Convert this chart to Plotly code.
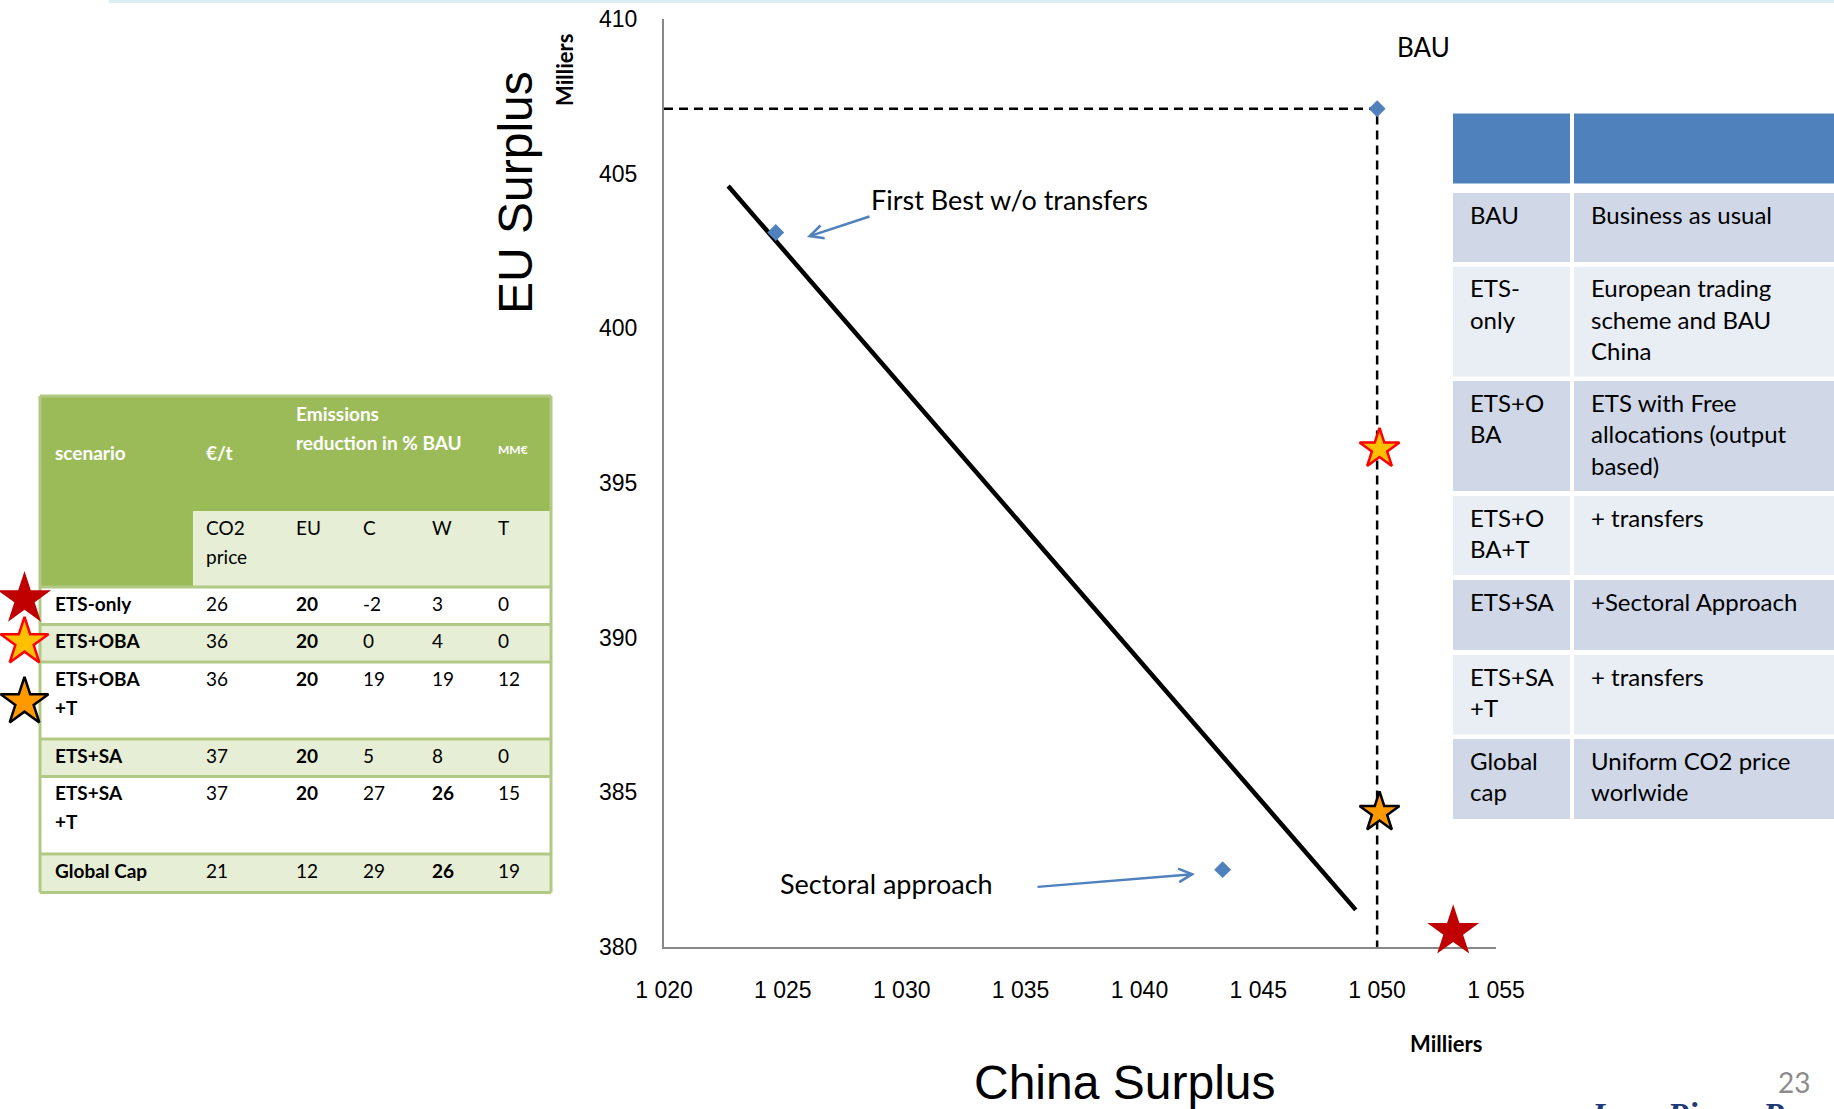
import plotly.graph_objects as go

# ---------------- data ----------------
china_tick_vals = [1020, 1025, 1030, 1035, 1040, 1045, 1050, 1055]
china_tick_text = ["1 020", "1 025", "1 030", "1 035", "1 040", "1 045", "1 050", "1 055"]
eu_tick_vals = [380, 385, 390, 395, 400, 405, 410]
eu_tick_text = ["380", "385", "390", "395", "400", "405", "410"]

bau_china = [1050.0]
bau_eu = [407.1]
first_best_china = [1024.7]
first_best_eu = [403.1]
sectoral_china = [1043.5]
sectoral_eu = [382.5]
frontier_china = [1022.7, 1049.1]
frontier_eu = [404.6, 381.2]
ets_only_china = [1053.2]
ets_only_eu = [380.5]
ets_oba_china = [1050.1]
ets_oba_eu = [396.1]
ets_oba_t_china = [1050.1]
ets_oba_t_eu = [384.35]

scenario_names = ["ETS-only", "ETS+OBA", "ETS+OBA<br>+T", "ETS+SA", "ETS+SA<br>+T", "Global Cap"]
co2_price = [26, 36, 36, 37, 37, 21]
reduction_eu = [20, 20, 20, 20, 20, 12]
reduction_c = [-2, 0, 19, 5, 27, 29]
reduction_w = [3, 4, 19, 8, 26, 26]
transfers_mme = [0, 0, 12, 0, 15, 19]
eu_bold = [True, True, True, True, True, False]
w_bold = [False, False, False, False, True, True]

left_header = ["scenario", "€/t", "Emissions<br>reduction in % BAU", "MM€"]
left_subheader = ["CO2<br>price", "EU", "C", "W", "T"]

glossary_abbr = ["BAU", "ETS-<br>only", "ETS+O<br>BA", "ETS+O<br>BA+T", "ETS+SA", "ETS+SA<br>+T", "Global<br>cap"]
glossary_desc = ["Business as usual",
                 "European trading<br>scheme and BAU<br>China",
                 "ETS with Free<br>allocations (output<br>based)",
                 "+ transfers",
                 "+Sectoral Approach",
                 "+ transfers",
                 "Uniform CO2 price<br>worlwide"]

# ---------------- layout constants (pixels) ----------------
W, H = 1834, 1109
PX0, PX1, PY_TOP, PY_BOT = 664, 1496, 19, 947
SANS = "Liberation Sans, Arial, sans-serif"
BODY = "Lato, Carlito, Calibri, sans-serif"
BLUE = "#4F81BD"

shapes = []
annotations = []


def rect(x0, y0, x1, y1, fill, line_color=None, lw=0):
    shapes.append(dict(type="rect", xref="x2", yref="y2", x0=x0, y0=y0, x1=x1, y1=y1,
                       layer="below", fillcolor=fill,
                       line=dict(width=lw, color=line_color or fill)))


def seg(x0, y0, x1, y1, color, lw):
    shapes.append(dict(type="line", xref="x2", yref="y2", x0=x0, y0=y0, x1=x1, y1=y1,
                       layer="below", line=dict(width=lw, color=color)))


def txt(x, y, text, size, color="#000000", family=BODY, xanchor="left", yanchor="middle",
        angle=0, spacing=None):
    lines = text.split("<br>")
    if spacing is None:
        spacing = size * 1.3
    for i, ln in enumerate(lines):
        annotations.append(dict(xref="x2", yref="y2", x=x, y=y + i * spacing, text=ln,
                                showarrow=False, xanchor=xanchor, yanchor=yanchor,
                                textangle=angle,
                                font=dict(size=size, color=color, family=family)))


# top thin band
rect(109, 0, 1834, 3, "#DCEEF4")

# ---------------- left table ----------------
LT_X0, LT_X1 = 40, 551
LT_TOP, LT_SUB_TOP, LT_SUB_X0 = 396, 511, 193
row_edges = [587, 624.5, 662, 739, 776.6, 854, 892.4]
col_x = [53, 204, 294, 361, 430, 496]
GREEN = "#9BBB59"
LIGHT_GREEN = "#E6EED5"
BORDER_GREEN = "#B2C986"

rect(LT_X0, LT_TOP, LT_X1, row_edges[0], GREEN)
rect(LT_SUB_X0, LT_SUB_TOP, LT_X1, row_edges[0], LIGHT_GREEN)
for i in range(len(scenario_names)):
    rect(LT_X0, row_edges[i], LT_X1, row_edges[i + 1], "#FFFFFF" if i % 2 == 0 else LIGHT_GREEN)
for y in row_edges:
    seg(LT_X0, y, LT_X1, y, BORDER_GREEN, 3)
seg(LT_X0, LT_TOP, LT_X0, row_edges[-1], BORDER_GREEN, 3)
seg(LT_X1, LT_TOP, LT_X1, row_edges[-1], BORDER_GREEN, 3)
seg(LT_X0, LT_TOP, LT_X1, LT_TOP, BORDER_GREEN, 3)

FS_L = 19
LSP = 29
txt(col_x[0], 452, "<b>" + left_header[0] + "</b>", FS_L, "#FFFFFF")
txt(col_x[1], 452, "<b>" + left_header[1] + "</b>", FS_L, "#FFFFFF")
txt(col_x[2], 413, "<b>" + left_header[2].replace("<br>", "</b><br><b>") + "</b>", FS_L, "#FFFFFF", spacing=LSP)
txt(col_x[5], 449, "<b>" + left_header[3] + "</b>", 12, "#FFFFFF")
txt(col_x[1], 527, left_subheader[0], FS_L, spacing=LSP)
for j, lab in enumerate(left_subheader[1:]):
    txt(col_x[j + 2], 527, lab, FS_L)

for i, name in enumerate(scenario_names):
    y = row_edges[i] + 16
    txt(col_x[0], y, "<b>" + name.replace("<br>", "</b><br><b>") + "</b>", FS_L, spacing=LSP)
    txt(col_x[1], y, str(co2_price[i]), FS_L)
    txt(col_x[2], y, ("<b>%d</b>" if eu_bold[i] else "%d") % reduction_eu[i], FS_L)
    txt(col_x[3], y, str(reduction_c[i]), FS_L)
    txt(col_x[4], y, ("<b>%d</b>" if w_bold[i] else "%d") % reduction_w[i], FS_L)
    txt(col_x[5], y, str(transfers_mme[i]), FS_L)

# ---------------- right table ----------------
RT_X0, RT_S0, RT_S1, RT_X1 = 1453, 1570, 1574, 1834
rt_rows = [(193, 262), (266.7, 376.6), (381, 491), (496, 575), (580, 650), (655, 734.5), (739, 819)]
rect(RT_X0, 113.5, RT_S0, 183.6, BLUE)
rect(RT_S1, 113.5, RT_X1, 183.6, BLUE)
for i, (y0, y1) in enumerate(rt_rows):
    c = "#D0D8E8" if i % 2 == 0 else "#E9EDF4"
    rect(RT_X0, y0, RT_S0, y1, c)
    rect(RT_S1, y0, RT_X1, y1, c)
    txt(1468, y0 + 21, glossary_abbr[i], 24, spacing=31.6)
    txt(1589, y0 + 21, glossary_desc[i], 24, spacing=31.6)

# ---------------- chart annotations ----------------
txt(1423, 47, "BAU", 26, xanchor="center")
txt(869, 199, "First Best w/o transfers", 27)
txt(778, 883, "Sectoral approach", 27)
for (hx, hy, tx, ty) in [(807, 237, 871, 216), (1195, 874, 1036, 887)]:
    annotations.append(dict(xref="x2", yref="y2", axref="x2", ayref="y2", x=hx, y=hy, ax=tx, ay=ty,
                            text="", showarrow=True, arrowhead=5, arrowsize=1.1, arrowwidth=2.4,
                            arrowcolor=BLUE))

txt(515, 193, "EU Surplus", 48, family=SANS, xanchor="center", angle=-90)
txt(564, 70, "<b>Milliers</b>", 22, xanchor="center", angle=-90)
txt(1125, 1082, "China Surplus", 48, family=SANS, xanchor="center")
txt(1446, 1043, "<b>Milliers</b>", 22, xanchor="center")
txt(1812, 1082, "23", 28, "#8C8C8C", xanchor="right")
txt(1585, 1094, "<b><i>Jean-Pierre Ponssard</i></b>", 34, "#1F3A78", family="Liberation Serif, serif",
    yanchor="top")

# ---------------- traces ----------------
fig = go.Figure()
fig.add_trace(go.Scatter(x=[china_tick_vals[0], bau_china[0], bau_china[0]],
                         y=[bau_eu[0], bau_eu[0], eu_tick_vals[0]],
                         mode="lines", line=dict(color="#000000", width=2.5, dash="9px,6px"),
                         hoverinfo="skip"))
fig.add_trace(go.Scatter(x=frontier_china, y=frontier_eu, mode="lines",
                         line=dict(color="#000000", width=4.5)))
fig.add_trace(go.Scatter(x=bau_china + first_best_china + sectoral_china,
                         y=bau_eu + first_best_eu + sectoral_eu, mode="markers",
                         marker=dict(symbol="diamond", size=13, color=BLUE, opacity=1), cliponaxis=False))
fig.add_trace(go.Scatter(x=ets_oba_china, y=ets_oba_eu, mode="markers", cliponaxis=False,
                         marker=dict(symbol="star", size=30, color="#FFC000", opacity=1,
                                     line=dict(color="#FF0000", width=2.5))))
fig.add_trace(go.Scatter(x=ets_oba_t_china, y=ets_oba_t_eu, mode="markers", cliponaxis=False,
                         marker=dict(symbol="star", size=30, color="#FF9900", opacity=1,
                                     line=dict(color="#000000", width=2.5))))
fig.add_trace(go.Scatter(x=ets_only_china, y=ets_only_eu, mode="markers", cliponaxis=False,
                         marker=dict(symbol="star", size=39, color="#C00000", opacity=1,
                                     line=dict(color="#C00000", width=0))))

# icons beside the left table (pixel overlay axes)
LEFT_STAR_X = 24.5
LEFT_STAR_Y = [599, 642, 702]
fig.add_trace(go.Scatter(x=[LEFT_STAR_X] * 3, y=LEFT_STAR_Y, xaxis="x2", yaxis="y2", mode="markers",
                         cliponaxis=False,
                         marker=dict(symbol="star", size=[40, 36, 36], opacity=1,
                                     color=["#C00000", "#FFC000", "#FF9900"],
                                     line=dict(color=["#C00000", "#FF0000", "#000000"], width=[0, 2.5, 2.5]))))

fig.update_layout(
    width=W, height=H, margin=dict(l=0, r=0, t=0, b=0, pad=0, autoexpand=False),
    paper_bgcolor="#FFFFFF", plot_bgcolor="rgba(0,0,0,0)",
    showlegend=False, hovermode=False,
    shapes=shapes, annotations=annotations,
    xaxis=dict(domain=[PX0 / W, PX1 / W], range=[1020, 1055], tickvals=china_tick_vals,
               ticktext=china_tick_text, showline=True, linecolor="#888888", linewidth=2,
               showgrid=False, zeroline=False, ticks="", ticklabelstandoff=21, layer="below traces",
               tickfont=dict(family=SANS, size=23, color="#000000"), anchor="y", automargin=False),
    yaxis=dict(domain=[1 - PY_BOT / H, 1 - PY_TOP / H], range=[380, 410], tickvals=eu_tick_vals,
               ticktext=eu_tick_text, showline=True, linecolor="#888888", linewidth=2,
               showgrid=False, zeroline=False, ticks="", ticklabelstandoff=20, layer="below traces",
               tickfont=dict(family=SANS, size=23, color="#000000"), anchor="x", automargin=False),
    xaxis2=dict(domain=[0, 1], range=[0, W], visible=False, anchor="y2", fixedrange=True, automargin=False),
    yaxis2=dict(domain=[0, 1], range=[H, 0], visible=False, anchor="x2", fixedrange=True, automargin=False),
)

fig.write_html("out.html", config={"displayModeBar": False},
               post_script="document.body.style.margin='0px';document.body.style.overflow='hidden';")
